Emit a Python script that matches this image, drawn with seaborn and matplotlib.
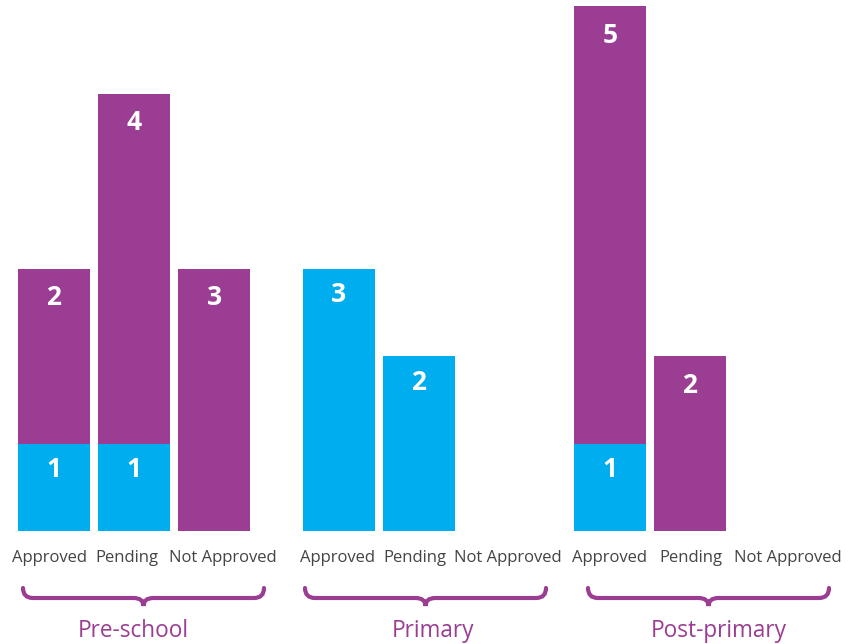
import matplotlib
matplotlib.use('Agg')
import matplotlib.pyplot as plt
import matplotlib.transforms as mtransforms
from matplotlib.path import Path
from matplotlib.patches import PathPatch
import seaborn as sns
import pandas as pd

# data
groups = ['Pre-school', 'Primary', 'Post-primary']
statuses = ['Approved', 'Pending', 'Not Approved']
blue_preschool = [1, 1, 0]
purple_preschool = [2, 4, 3]
blue_primary = [3, 2, 0]
purple_primary = [0, 0, 0]
blue_postprimary = [1, 0, 0]
purple_postprimary = [5, 2, 0]

BLUE = '#00AEEF'
PURPLE = '#9A3D93'
TEXT = '#444444'

sns.set_theme(style='white')
plt.rcParams['font.family'] = ['Open Sans', 'DejaVu Sans']

W, H = 858, 644
fig = plt.figure(figsize=(W / 100, H / 100), dpi=100)

# pixel layout (from top-left) of each group panel
panel_left = [14, 299, 570]
panel_width = 240
baseline = 531
panel_height = 525
# small nudges (px) to tick labels, braces and group titles
tick_shift = [[-5, -7, 9], [-2, -4, 9], [-1, 1, 18]]
brace_shift = [9, 6, 18]
title_shift = [-10, 8, 10]

# transform: pixel coords with origin at top-left
px = mtransforms.Affine2D().scale(1 / W, -1 / H).translate(0, 1) + fig.transFigure


def draw_brace(x0, x1, ytop, ybar, ytip, r=10):
    xc = (x0 + x1) / 2
    verts = [(x0, ytop), (x0, ybar), (x0 + r, ybar),
             (xc - r, ybar), (xc, ybar), (xc, ytip),
             (xc, ybar), (xc + r, ybar),
             (x1 - r, ybar), (x1, ybar), (x1, ytop)]
    codes = [Path.MOVETO, Path.CURVE3, Path.CURVE3,
             Path.LINETO, Path.CURVE3, Path.CURVE3,
             Path.CURVE3, Path.CURVE3,
             Path.LINETO, Path.CURVE3, Path.CURVE3]
    patch = PathPatch(Path(verts, codes), transform=px, facecolor='none',
                      edgecolor=PURPLE, linewidth=3, capstyle='round')
    fig.patches.append(patch)


blues = [blue_preschool, blue_primary, blue_postprimary]
purples = [purple_preschool, purple_primary, purple_postprimary]

for k, group in enumerate(groups):
    df = pd.DataFrame({'status': statuses,
                       'blue': blues[k],
                       'purple': purples[k]})
    df['total'] = df['blue'] + df['purple']

    left = panel_left[k] / W
    bottom = (H - baseline) / H
    ax = fig.add_axes([left, bottom, panel_width / W, panel_height / H])

    sns.barplot(data=df, x='status', y='total', order=statuses, color=PURPLE,
                saturation=1, width=0.9, linewidth=0, ax=ax)
    sns.barplot(data=df, x='status', y='blue', order=statuses, color=BLUE,
                saturation=1, width=0.9, linewidth=0, ax=ax)

    for i, row in df.iterrows():
        if row['purple'] > 0:
            ax.annotate(str(row['purple']), (i, row['total']), xytext=(0, -21),
                        textcoords='offset points', ha='center', va='center',
                        color='white', fontsize=19, fontweight='bold')
        if row['blue'] > 0:
            ax.annotate(str(row['blue']), (i, row['blue']), xytext=(0, -19),
                        textcoords='offset points', ha='center', va='center',
                        color='white', fontsize=19, fontweight='bold')

    ax.set_xlim(-0.5, 2.5)
    ax.set_ylim(0, 6)
    ax.set_xlabel('')
    ax.set_ylabel('')
    ax.set_yticks([])
    ax.tick_params(axis='x', length=0, pad=14, labelsize=12, labelcolor=TEXT)
    for lab, dx in zip(ax.get_xticklabels(), tick_shift[k]):
        lab.set_transform(lab.get_transform() +
                          mtransforms.ScaledTranslation(dx / 100, 0, fig.dpi_scale_trans))
    sns.despine(ax=ax, left=True, bottom=True)

    x0 = panel_left[k] + brace_shift[k]
    x1 = x0 + panel_width + 1
    draw_brace(x0, x1, 588, 598, 606)
    fig.text(((x0 + x1) / 2 + title_shift[k]) / W, 1 - 631 / H, group,
             ha='center', va='center', color=PURPLE, fontsize=16.3)

fig.savefig('out.png', dpi=100)
